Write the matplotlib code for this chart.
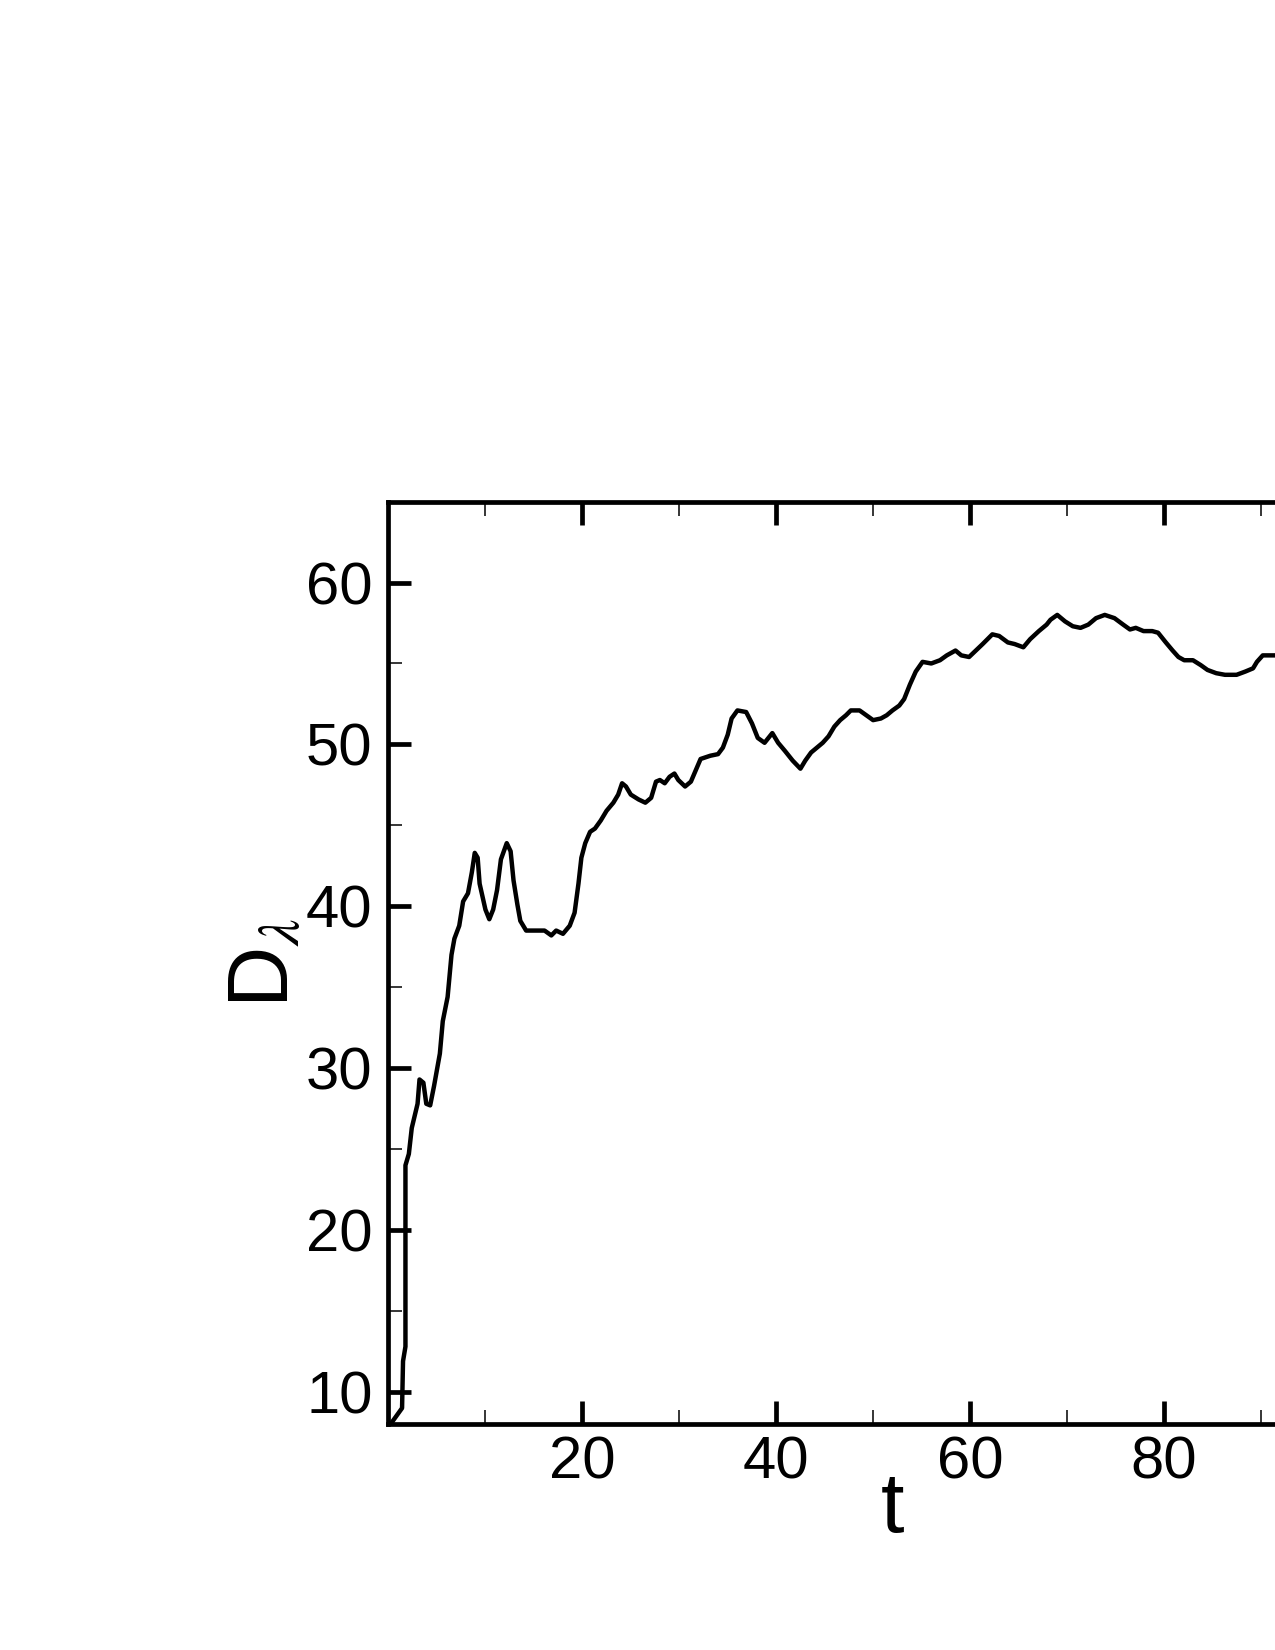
import matplotlib
matplotlib.use("Agg")
import matplotlib.pyplot as plt
from matplotlib.ticker import FixedLocator

plt.rcParams['font.family'] = ['Liberation Sans', 'DejaVu Sans']
plt.rcParams['mathtext.fontset'] = 'stix'

t = [0.2, 1.4, 1.5, 1.75, 1.75, 2.1, 2.4, 3.0, 3.2, 3.6, 3.9, 4.3, 4.7, 5.3, 5.6,
     6.1, 6.5, 6.8, 7.3, 7.7, 8.2, 8.6, 8.9, 9.2, 9.4, 10.0, 10.4, 10.8, 11.2, 11.6,
     12.2, 12.6, 12.9, 13.3, 13.6, 14.2, 14.7, 15.4, 16.1, 16.8, 17.3, 18.0, 18.7,
     19.2, 19.6, 19.9, 20.3, 20.8, 21.3, 21.9, 22.5, 23.2, 23.7, 24.1, 24.5, 25.0,
     25.8, 26.5, 27.1, 27.6, 28.0, 28.5, 29.0, 29.5, 29.9, 30.6, 31.2, 31.7, 32.2,
     33.2, 34.0, 34.5, 35.0, 35.4, 36.0, 36.9, 37.5, 38.1, 38.8, 39.2, 39.6, 40.2,
     40.9, 41.7, 42.5, 43.0, 43.6, 44.2, 44.8, 45.4, 46.0, 46.6, 47.2, 47.7, 48.6,
     49.3, 50.0, 50.8, 51.4, 52.0, 52.7, 53.2, 53.8, 54.4, 55.1, 56.0, 56.9, 57.6,
     58.5, 59.1, 59.9, 60.6, 61.3, 62.3, 63.0, 63.9, 64.6, 65.5, 66.2, 67.1, 67.9,
     68.3, 69.0, 69.8, 70.6, 71.4, 72.2, 73.0, 73.9, 74.9, 75.8, 76.5, 77.1, 77.9,
     78.8, 79.4, 80.2, 80.9, 81.5, 82.1, 83.0, 83.8, 84.5, 85.4, 86.3, 87.5, 88.4,
     89.2, 89.6, 90.2, 91.0, 92.0]
D = [8.0, 9.0, 11.9, 12.8, 24.0, 24.7, 26.3, 27.8, 29.3, 29.1, 27.8, 27.7, 28.9, 30.9, 32.9,
     34.4, 37.0, 38.0, 38.8, 40.3, 40.8, 42.1, 43.3, 43.0, 41.4, 39.8, 39.2, 39.8, 41.0, 42.9,
     43.9, 43.4, 41.6, 40.1, 39.1, 38.5, 38.5, 38.5, 38.5, 38.2, 38.5, 38.3, 38.8,
     39.6, 41.4, 43.0, 43.9, 44.6, 44.8, 45.3, 45.9, 46.4, 46.9, 47.6, 47.4, 46.9,
     46.6, 46.4, 46.7, 47.7, 47.8, 47.6, 48.0, 48.2, 47.8, 47.4, 47.7, 48.4, 49.1,
     49.3, 49.4, 49.8, 50.6, 51.6, 52.1, 52.0, 51.3, 50.4, 50.1, 50.4, 50.7, 50.1,
     49.6, 49.0, 48.5, 49.0, 49.5, 49.8, 50.1, 50.5, 51.1, 51.5, 51.8, 52.1, 52.1,
     51.8, 51.5, 51.6, 51.8, 52.1, 52.4, 52.8, 53.7, 54.5, 55.1, 55.0, 55.2, 55.5,
     55.8, 55.5, 55.4, 55.8, 56.2, 56.8, 56.7, 56.3, 56.2, 56.0, 56.5, 57.0, 57.4,
     57.7, 58.0, 57.6, 57.3, 57.2, 57.4, 57.8, 58.0, 57.8, 57.4, 57.1, 57.2, 57.0,
     57.0, 56.9, 56.3, 55.8, 55.4, 55.2, 55.2, 54.9, 54.6, 54.4, 54.3, 54.3, 54.5,
     54.7, 55.1, 55.5, 55.5, 55.5]

x_major = [20, 40, 60, 80]
x_minor = [10, 30, 50, 70, 90]
y_major = [10, 20, 30, 40, 50, 60]
y_minor = [15, 25, 35, 45, 55]

fig = plt.figure(figsize=(12.75, 16.5), dpi=100)
ax = fig.add_axes([0.3047, 0.1368, 0.7906, 0.5592])
ax.plot(t, D, color='black', lw=3.2, solid_joinstyle='round', solid_capstyle='round')
ax.set_xlim(0, 104)
ax.set_ylim(8, 65)

ax.xaxis.set_major_locator(FixedLocator(x_major))
ax.xaxis.set_minor_locator(FixedLocator(x_minor))
ax.yaxis.set_major_locator(FixedLocator(y_major))
ax.yaxis.set_minor_locator(FixedLocator(y_minor))

for s in ax.spines.values():
    s.set_linewidth(3.4)
ax.tick_params(which='both', direction='in', top=True, right=True, colors='black')
ax.tick_params(which='major', length=16.5, width=3.4, labelsize=43)
ax.tick_params(which='minor', length=10, width=1.1)
ax.tick_params(axis='x', which='major', pad=8)
ax.tick_params(axis='y', which='major', pad=11.5)

ax.set_xlabel('t', fontsize=61)
ax.xaxis.set_label_coords(0.5, -0.05)
ax.set_ylabel(r'D$_{\lambda}$', fontsize=61)
ax.yaxis.set_label_coords(-0.081, 0.5)

fig.savefig('out.png', dpi=100)
